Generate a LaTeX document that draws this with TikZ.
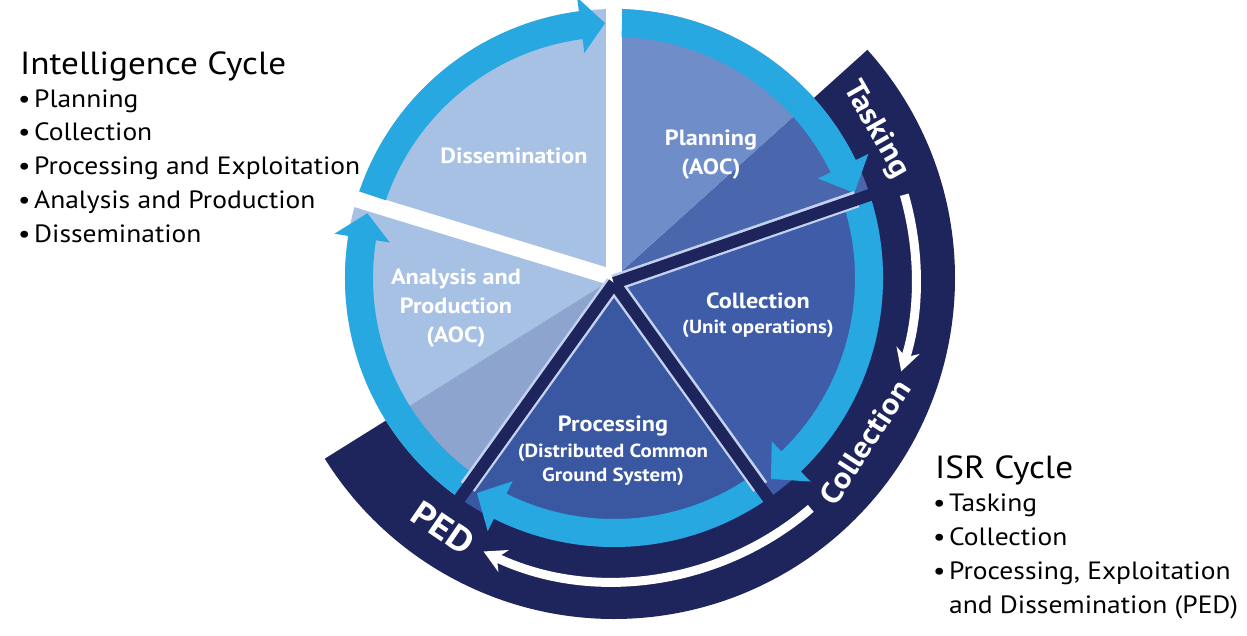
\documentclass[tikz,border=0pt]{standalone}
\usepackage{fontspec}
\setmainfont{PT Sans}[FakeStretch=1.1]
\usetikzlibrary{arrows.meta}

\definecolor{navyband}{RGB}{30,36,92}
\definecolor{ringcyan}{RGB}{39,168,224}
\definecolor{dissblue}{RGB}{167,193,228}
\definecolor{anablue}{RGB}{141,164,207}
\definecolor{planblue}{RGB}{111,141,201}
\definecolor{planlow}{RGB}{74,102,172}
\definecolor{collblue}{RGB}{62,92,167}
\definecolor{procblue}{RGB}{58,87,162}
\definecolor{spokeline}{RGB}{196,210,240}

\newcommand{\subline}{\fontsize{19}{23}\selectfont}
\newcommand{\bul}{\makebox[14pt][l]{\hspace{-2pt}\textbullet}}

\tikzset{
  pielabel/.style={text=white, align=center, font=\bfseries\fontsize{22}{29}\selectfont},
  bandlabel/.style={text=white, font=\bfseries\fontsize{30}{34}\selectfont},
  listtitle/.style={anchor=base west, inner sep=0pt, font=\fontsize{32}{36}\selectfont},
  listitem/.style={anchor=base west, inner sep=0pt, font=\fontsize{25}{33}\selectfont},
  ringarrow/.style={fill=ringcyan},
  whitearrow/.style={draw=white, line width=9pt, -{Stealth[length=22pt, width=24pt]}},
  gapline/.style={white, line width=16pt},
}

% cyan ring segment with its head: tail angle, head base angle, tip angle
\newcommand{\ringarrow}[3]{%
  \fill[ringarrow] (#1:241) arc[start angle=#1, end angle=#2, radius=241]
    -- (#2:227) -- (#3:255) -- (#2:283) -- (#2:269)
    arc[start angle=#2, end angle=#1, radius=269] -- cycle;}

\begin{document}
\begin{tikzpicture}[x=1pt, y=1pt]
  \useasboundingbox (-614,-357) rectangle (633,278);

  % Draw the ISR band
  \fill[navyband] (42:262) -- (42:341) arc[start angle=42, end angle=-148, radius=341]
    -- (-148:262) arc[start angle=-148, end angle=42, radius=262] -- cycle;

  % Draw the pie sectors
  \fill[dissblue] (0,0) -- (90:269) arc[start angle=90, end angle=212, radius=269] -- cycle;
  \fill[anablue] (0,0) -- (212:269) arc[start angle=212, end angle=235, radius=269] -- cycle;
  \fill[procblue] (0,0) -- (235:269) arc[start angle=235, end angle=305, radius=269] -- cycle;
  \fill[collblue] (0,0) -- (-55:269) arc[start angle=-55, end angle=18, radius=269] -- cycle;
  \fill[planlow] (0,0) -- (18:269) arc[start angle=18, end angle=42, radius=269] -- cycle;
  \fill[planblue] (0,0) -- (42:269) arc[start angle=42, end angle=90, radius=269] -- cycle;

  % Draw the white gaps of the intelligence cycle
  \draw[gapline] (0,0) -- (90:300);
  \draw[gapline] (0,0) -- (163:300);

  % Draw the cyan ring arrows
  \ringarrow{161.2}{97.5}{92}
  \ringarrow{88.2}{26}{19.5}
  \ringarrow{18}{-46}{-52}
  \ringarrow{-55}{-116.5}{-122.5}
  \ringarrow{235}{171}{165.3}

  % Draw the dark spokes round collection and processing
  \foreach \a in {18,-55,-125}
    \draw[spokeline, line width=17pt] (0,-5) -- (\a:255);
  \foreach \a in {18,-55,-125}
    \draw[navyband, line width=12pt] (0,-5) -- (\a:275);

  % Draw the white arrows in the band
  \draw[whitearrow] (16:302) arc[start angle=16, end angle=-18, radius=302];
  \draw[whitearrow] (-49.5:303) arc[start angle=-49.5, end angle=-115.5, radius=303];

  % Label the band
  \node[bandlabel, rotate=-60.5] (tasking) at (29.5:301) {Tasking};
  \node[bandlabel, rotate=56.8] (collectionband) at (-33.2:300) {Collection};
  \node[bandlabel, font=\bfseries\fontsize{35}{38}\selectfont, rotate=-34.4] (ped) at (-124.4:303) {PED};

  % Label the sectors
  \node[pielabel] (dissemination) at (-100,122) {Dissemination};
  \node[pielabel] (planning) at (97,123) {Planning\\(AOC)};
  \node[pielabel] (collection) at (144,-37) {Collection\\[-4pt]\subline (Unit operations)};
  \node[pielabel] (processing) at (-1,-173) {Processing\\[-3pt]\subline (Distributed Common\\[-5pt]\subline Ground System)};
  \node[pielabel] (analysis) at (-158,-30) {Analysis and\\Production\\(AOC)};

  % Intelligence cycle list
  \node[listtitle] (ictitle) at (-594,203) {Intelligence Cycle};
  \node[listitem] (ic1) at (-594,170) {\bul Planning};
  \node[listitem] (ic2) at (-594,137) {\bul Collection};
  \node[listitem] (ic3) at (-594,103) {\bul Processing and Exploitation};
  \node[listitem] (ic4) at (-594,70) {\bul Analysis and Production};
  \node[listitem] (ic5) at (-594,36) {\bul Dissemination};

  % ISR cycle list
  \node[listtitle] (isrtitle) at (321,-200) {ISR Cycle};
  \node[listitem] (isr1) at (321,-233) {\bul Tasking};
  \node[listitem] (isr2) at (321,-267) {\bul Collection};
  \node[listitem] (isr3) at (321,-301) {\bul Processing, Exploitation};
  \node[listitem] (isr4) at (321,-335) {\phantom{\bul}and Dissemination (PED)};
\end{tikzpicture}
\end{document}
